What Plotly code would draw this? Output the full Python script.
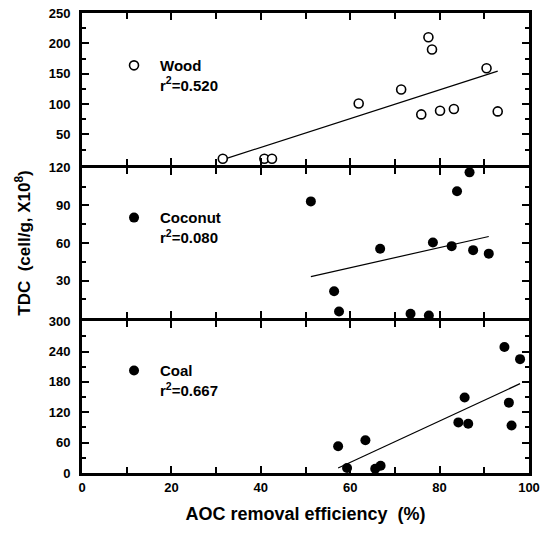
import numpy as np
import plotly.graph_objects as go
from plotly.subplots import make_subplots

# AOC removal efficiency (%) and TDC (cell/g, x10^8) for each carbon type
wood_x = [31.5, 40.8, 42.5, 61.9, 71.4, 75.9, 77.5, 78.3, 80.1, 83.2, 90.5, 93.0]
wood_y = [10, 10, 10, 101, 124, 83, 210, 190, 89, 92, 159, 88]

coconut_x = [51.2, 56.4, 57.5, 66.7, 73.5, 77.6, 78.5, 82.7, 83.9, 86.7, 87.5, 91.0]
coconut_y = [93.2, 21.5, 5.3, 55.4, 3.5, 2.2, 60.4, 57.5, 101.3, 116.4, 54.3, 51.5]

coal_x = [57.3, 59.3, 63.4, 65.6, 66.8, 84.2, 85.6, 86.4, 94.5, 95.5, 96.1, 98.0]
coal_y = [53, 9.8, 64.7, 8.5, 14.3, 100, 149, 97.4, 249, 139, 94, 225]

labels = ["Wood", "Coconut", "Coal"]
r2_text = ["0.520", "0.080", "0.667"]

y_ranges = [[0, 250], [0, 120], [0, 300]]
y_ticks = [[50, 100, 150, 200, 250], [30, 60, 90, 120], [0, 60, 120, 180, 240, 300]]
y_minor = [25, 15, 30]

x_ticks = [0, 20, 40, 60, 80, 100]

FONT = "Liberation Sans, Arial, sans-serif"
LW = 3            # frame line width
PLOT_H = 460      # plotting height in px

fig = make_subplots(rows=3, cols=1, shared_xaxes=True, vertical_spacing=0)

series = [(wood_x, wood_y), (coconut_x, coconut_y), (coal_x, coal_y)]
legend_ids = ["legend", "legend2", "legend3"]

for i, (xs, ys) in enumerate(series):
    row = i + 1
    xs_a = np.array(xs, dtype=float)
    ys_a = np.array(ys, dtype=float)
    # least-squares regression line over the observed range
    slope, intercept = np.polyfit(xs_a, ys_a, 1)
    fx = np.array([xs_a.min(), xs_a.max()])
    fig.add_trace(
        go.Scatter(x=fx, y=slope * fx + intercept, mode="lines",
                   line=dict(color="black", width=1.2),
                   showlegend=False, hoverinfo="skip", cliponaxis=False),
        row=row, col=1)
    if i == 0:
        marker = dict(symbol="circle", size=9, color="white",
                      line=dict(color="black", width=1.6))
    else:
        marker = dict(symbol="circle", size=10, color="black",
                      line=dict(color="black", width=0))
    fig.add_trace(
        go.Scatter(x=xs, y=ys, mode="markers", marker=marker,
                   name=f"{labels[i]}<br>r<sup>2</sup>={r2_text[i]}",
                   legend=legend_ids[i], cliponaxis=False),
        row=row, col=1)

axis_common = dict(
    showline=True, linewidth=LW, linecolor="black", mirror="allticks",
    ticks="inside", ticklen=7, tickwidth=2, tickcolor="black",
    showgrid=False, zeroline=False,
    tickfont=dict(family=FONT, size=13, color="black", weight="bold"),
)

# small gaps between panels so the shared frame lines coincide
half = (LW / 2) / PLOT_H
domains = [[2 / 3 + half, 1], [1 / 3 + half, 2 / 3 - half], [0, 1 / 3 - half]]

for i in range(3):
    fig.update_yaxes(
        domain=domains[i],
        range=y_ranges[i], tickmode="array", tickvals=y_ticks[i],
        minor=dict(ticks="inside", ticklen=4, tickwidth=1.5, tickcolor="black",
                   dtick=y_minor[i], tick0=0, showgrid=False),
        ticklabelstandoff=6,
        row=i + 1, col=1, **axis_common)
    fig.update_xaxes(
        range=[0, 100], tickmode="array", tickvals=x_ticks,
        minor=dict(ticks="inside", ticklen=6, tickwidth=2, tickcolor="black",
                   dtick=10, tick0=0, showgrid=False),
        row=i + 1, col=1, **axis_common)

fig.update_yaxes(
    title=dict(text="TDC\u00a0\u00a0(cell/g,\u00a0X10<sup>8</sup>)", standoff=14,
               font=dict(family=FONT, size=17, color="black", weight="bold")),
    row=2, col=1)
fig.update_xaxes(
    title=dict(text="AOC removal efficiency\u00a0\u00a0(%)", standoff=14,
               font=dict(family=FONT, size=18, color="black", weight="bold")),
    row=3, col=1)

legend_common = dict(
    xanchor="left", yanchor="top", x=0.0582, valign="top", itemwidth=42,
    bgcolor="rgba(0,0,0,0)", borderwidth=0,
    font=dict(family=FONT, size=15, color="black", weight="bold"),
    itemclick=False, itemdoubleclick=False,
)

fig.update_layout(
    width=542, height=537,
    margin=dict(l=82, r=13, t=13, b=64, autoexpand=False),
    paper_bgcolor="white", plot_bgcolor="white",
    showlegend=True,
    legend=dict(y=0.9215, **legend_common),
    legend2=dict(y=0.5905, **legend_common),
    legend3=dict(y=0.2580, **legend_common),
)

fig.write_html("out.html")
